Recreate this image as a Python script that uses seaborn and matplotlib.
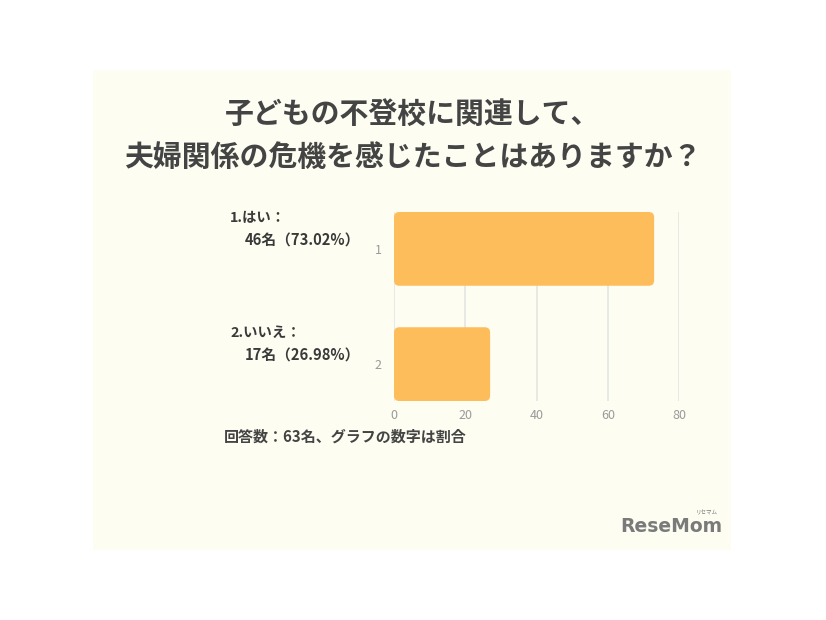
import matplotlib
matplotlib.use("Agg")
import matplotlib.pyplot as plt
import seaborn as sns
import pandas as pd
from matplotlib.patches import Rectangle, FancyBboxPatch
from matplotlib.transforms import blended_transform_factory

categories = ["1", "2"]
values = [73.02, 26.98]
label_line1 = ["1.はい：", "2.いいえ："]
label_line2 = ["46名（73.02%）", "17名（26.98%）"]
xticks = [0, 20, 40, 60, 80]
title = "子どもの不登校に関連して、\n夫婦関係の危機を感じたことはありますか？"
footnote = "回答数：63名、グラフの数字は割合"

sns.set_style("white")
plt.rcParams['font.family'] = ['Noto Sans CJK JP', 'DejaVu Sans']

W, H = 826, 620
fig = plt.figure(figsize=(W / 100, H / 100), dpi=100, facecolor="white")

# cream panel
fig.patches.append(Rectangle((93 / W, 1 - 550 / H), (731 - 93) / W, (550 - 70) / H,
                             transform=fig.transFigure, facecolor="#FDFDF2",
                             edgecolor="none", zorder=-10))

ax = fig.add_axes([394 / W, 1 - 401 / H, (679 - 394) / W, (401 - 212) / H])
ax.set_facecolor("none")
ax.set_zorder(5)

df = pd.DataFrame({"cat": categories, "val": values})
sns.barplot(data=df, x="val", y="cat", orient="h", color="#FDBD5B",
            saturation=1, width=0.64, ax=ax, zorder=3)

# round bar corners
for p in list(ax.patches):
    x0, y0 = p.get_x(), p.get_y()
    w, h = p.get_width(), p.get_height()
    p.set_visible(False)
    fb = FancyBboxPatch((x0, y0), w, h,
                        boxstyle="round,pad=0,rounding_size=1.5",
                        mutation_aspect=(0.64 / 74) / (80 / 285),
                        facecolor="#FDBD5B", edgecolor="none", zorder=3)
    ax.add_patch(fb)

ax.set_xlim(0, 80)
ax.set_ylim(1.32, -0.32)
ax.set_xticks(xticks)
ax.set_xticklabels([str(t) for t in xticks])
ax.xaxis.grid(True, color="#E2E2E2", linewidth=1.1, zorder=0)
ax.set_axisbelow(True)
ax.yaxis.grid(False)
for s in ax.spines.values():
    s.set_visible(False)
ax.tick_params(axis="both", length=0, labelsize=9, labelcolor="#9A9A9A")
ax.tick_params(axis="x", pad=6)
ax.tick_params(axis="y", pad=9)
ax.set_xlabel("")
ax.set_ylabel("")

tr = blended_transform_factory(fig.transFigure, ax.transData)
for i in range(len(categories)):
    ax.text(230 / W, i - 0.27, label_line1[i], transform=tr, ha="left", va="center",
            fontsize=10.4, fontweight="bold", color="#3A3A3A")
    ax.text(245 / W, i - 0.075, label_line2[i], transform=tr, ha="left", va="center",
            fontsize=10.6, fontweight="bold", color="#3A3A3A")

fig.text(413 / W, 1 - 135 / H, title, ha="center", va="center", fontsize=20.8,
         fontweight="bold", color="#444444", linespacing=1.55)

fig.text(224 / W, 1 - 437 / H, footnote, ha="left", va="center", fontsize=10.8,
         fontweight="bold", color="#444444")

fig.text(671 / W, 1 - 527 / H, "ReseMom", ha="center", va="center", fontsize=13.5,
         fontweight="bold", color="#7A7A7A", family=["DejaVu Sans"])
fig.text(707 / W, 1 - 513 / H, "リセマム", ha="center", va="center", fontsize=4,
         color="#7A7A7A")

fig.savefig("out.png", dpi=100, facecolor="white")
